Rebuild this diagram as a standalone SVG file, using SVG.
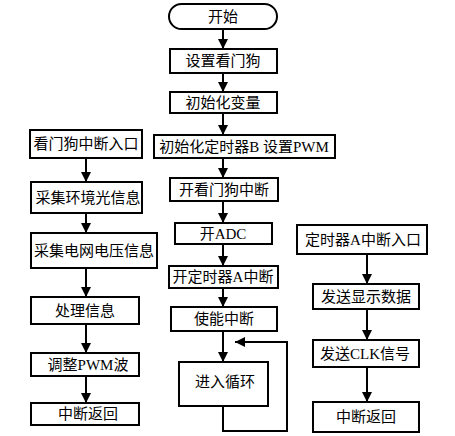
<svg xmlns="http://www.w3.org/2000/svg" width="455" height="436" viewBox="0 0 455 436">
<style>
.box{fill:#fff;stroke:#000;stroke-width:2}
.t{font-family:"Liberation Serif","Noto Sans CJK SC",serif;font-size:15px;fill:#000;text-anchor:middle;dominant-baseline:central}
.c{fill:none;stroke:#000;stroke-width:2}
</style>
<defs>
<marker id="ah" viewBox="0 0 10 10" refX="10" refY="5" markerWidth="5" markerHeight="5" orient="auto" markerUnits="strokeWidth">
<path d="M0,0 L10,5 L0,10 Z" fill="#000"/>
</marker>
</defs>
<rect width="455" height="436" fill="#fff"/>
<g id="connectors">
<line class="c" x1="223" y1="29" x2="223" y2="49" marker-end="url(#ah)"/>
<line class="c" x1="223" y1="73" x2="223" y2="92" marker-end="url(#ah)"/>
<line class="c" x1="223" y1="113" x2="223" y2="135" marker-end="url(#ah)"/>
<line class="c" x1="223" y1="158" x2="223" y2="178" marker-end="url(#ah)"/>
<line class="c" x1="223" y1="201" x2="223" y2="223" marker-end="url(#ah)"/>
<line class="c" x1="223" y1="244" x2="223" y2="266" marker-end="url(#ah)"/>
<line class="c" x1="223" y1="288" x2="223" y2="307" marker-end="url(#ah)"/>
<line class="c" x1="223" y1="331" x2="223" y2="362" marker-end="url(#ah)"/>
<polyline class="c" points="223,406 223,431 287,431 287,342 235,342" marker-end="url(#ah)"/>
<line class="c" x1="86" y1="158" x2="86" y2="182" marker-end="url(#ah)"/>
<line class="c" x1="86" y1="213" x2="86" y2="233" marker-end="url(#ah)"/>
<line class="c" x1="86" y1="268" x2="86" y2="297" marker-end="url(#ah)"/>
<line class="c" x1="86" y1="324" x2="86" y2="353" marker-end="url(#ah)"/>
<line class="c" x1="86" y1="376" x2="86" y2="403" marker-end="url(#ah)"/>
<line class="c" x1="367" y1="254" x2="367" y2="284" marker-end="url(#ah)"/>
<line class="c" x1="367" y1="309" x2="367" y2="340" marker-end="url(#ah)"/>
<line class="c" x1="367" y1="367" x2="367" y2="402" marker-end="url(#ah)"/>
</g>
<g id="start"><rect class="box" x="169" y="4" width="108" height="25" rx="12.5"/><text class="t" x="223" y="17">开始</text></g>
<g id="setwdt"><rect class="box" x="170" y="49" width="107" height="24"/><text class="t" x="223" y="61">设置看门狗</text></g>
<g id="initvar"><rect class="box" x="170" y="92" width="107" height="21"/><text class="t" x="223" y="103">初始化变量</text></g>
<g id="inittimerb"><rect class="box" x="154" y="135" width="181" height="23"/><text class="t" x="244" y="147">初始化定时器B 设置PWM</text></g>
<g id="openwdt"><rect class="box" x="170" y="178" width="108" height="23"/><text class="t" x="224" y="190">开看门狗中断</text></g>
<g id="openadc"><rect class="box" x="175" y="223" width="97" height="21"/><text class="t" x="223" y="234">开ADC</text></g>
<g id="opentimera"><rect class="box" x="169" y="266" width="109" height="22"/><text class="t" x="223" y="277">开定时器A中断</text></g>
<g id="enableint"><rect class="box" x="171" y="307" width="106" height="24"/><text class="t" x="224" y="319">使能中断</text></g>
<g id="loop"><rect class="box" x="179" y="362" width="89" height="44"/><text class="t" x="225" y="382">进入循环</text></g>
<g id="wdtentry"><rect class="box" x="30" y="130" width="112" height="28"/><text class="t" x="86" y="144">看门狗中断入口</text></g>
<g id="light"><rect class="box" x="31" y="182" width="111" height="31"/><text class="t" x="88" y="198">采集环境光信息</text></g>
<g id="voltage"><rect class="box" x="31" y="233" width="126" height="35"/><text class="t" x="94" y="251">采集电网电压信息</text></g>
<g id="process"><rect class="box" x="31" y="297" width="108" height="27"/><text class="t" x="85" y="311">处理信息</text></g>
<g id="pwm"><rect class="box" x="31" y="353" width="108" height="23"/><text class="t" x="88" y="365">调整PWM波</text></g>
<g id="ret1"><rect class="box" x="31" y="403" width="108" height="22"/><text class="t" x="88" y="414">中断返回</text></g>
<g id="taentry"><rect class="box" x="297" y="225" width="130" height="29"/><text class="t" x="363" y="240">定时器A中断入口</text></g>
<g id="senddisp"><rect class="box" x="313" y="284" width="106" height="25"/><text class="t" x="366" y="297">发送显示数据</text></g>
<g id="sendclk"><rect class="box" x="313" y="340" width="106" height="27"/><text class="t" x="365" y="354">发送CLK信号</text></g>
<g id="ret2"><rect class="box" x="313" y="402" width="106" height="30"/><text class="t" x="366" y="417">中断返回</text></g>
</svg>
